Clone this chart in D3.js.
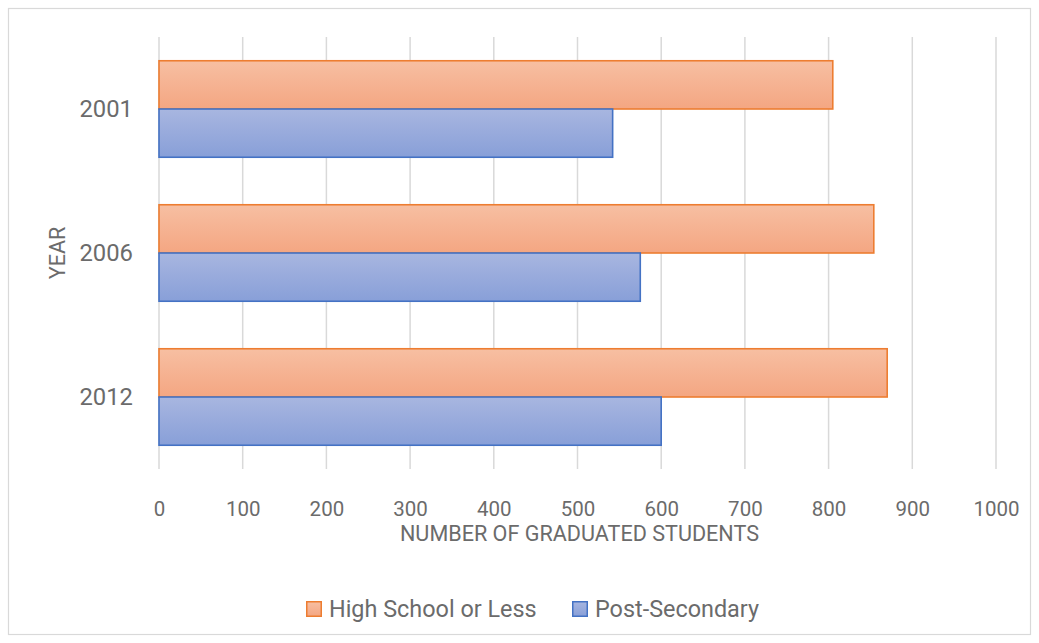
<!DOCTYPE html>
<html>
<head>
<meta charset="utf-8">
<script src="https://cdn.jsdelivr.net/npm/d3@7/dist/d3.min.js"></script>
<style>
  html, body { margin: 0; padding: 0; background: #fff; }
  svg { display: block; font-family: Roboto, "Open Sans", sans-serif; }
</style>
</head>
<body>
<svg id="chart" width="1039" height="643"></svg>
<script>
// Graduated students by year
const years = ["2001", "2006", "2012"];
const seriesNames = ["High School or Less", "Post-Secondary"];
const highSchool = [805, 854, 870];
const postSecondary = [542, 575, 600];
const xTicks = [0, 100, 200, 300, 400, 500, 600, 700, 800, 900, 1000];
const xTitle = "NUMBER OF GRADUATED STUDENTS";
const yTitle = "YEAR";

const W = 1039, H = 643;
const plot = { left: 159, right: 996, top: 37, bottom: 469 };
const textColor = "#6b6b6b";
const gridColor = "#d9d9d9";

const seriesStyle = [
  { stroke: "#ED7D31", top: "#f7bfa2", bottom: "#f4a682" },
  { stroke: "#4472C4", top: "#a8b6e0", bottom: "#889fd8" }
];

const rows = years.map((y, i) => ({ year: y, values: [highSchool[i], postSecondary[i]] }));

const svg = d3.select("#chart");

// chart area frame
svg.append("rect")
  .attr("x", 8.5).attr("y", 8.5)
  .attr("width", W - 17).attr("height", H - 17)
  .attr("fill", "#fff").attr("stroke", gridColor).attr("stroke-width", 1.2);

const defs = svg.append("defs");
seriesStyle.forEach((s, i) => {
  const g = defs.append("linearGradient").attr("id", "grad" + i)
    .attr("x1", 0).attr("y1", 0).attr("x2", 0).attr("y2", 1);
  g.append("stop").attr("offset", "0%").attr("stop-color", s.top);
  g.append("stop").attr("offset", "100%").attr("stop-color", s.bottom);
});

const x = d3.scaleLinear().domain([0, 1000]).range([plot.left, plot.right]);
const y = d3.scaleBand().domain(years).range([plot.top, plot.bottom])
  .paddingInner(0.33).paddingOuter(0.165);
const ySub = d3.scaleBand().domain(seriesNames).range([0, y.bandwidth()]);

// vertical gridlines
svg.append("g").selectAll("line").data(xTicks).join("line")
  .attr("x1", d => x(d)).attr("x2", d => x(d))
  .attr("y1", plot.top).attr("y2", plot.bottom)
  .attr("stroke", gridColor).attr("stroke-width", 1.5);

// bars
const groups = svg.append("g").selectAll("g").data(rows).join("g")
  .attr("transform", d => `translate(0,${y(d.year)})`);
groups.selectAll("rect")
  .data(d => d.values.map((v, k) => ({ k, v, name: seriesNames[k] })))
  .join("rect")
  .attr("x", x(0))
  .attr("y", d => ySub(d.name))
  .attr("width", d => x(d.v) - x(0))
  .attr("height", ySub.bandwidth())
  .attr("fill", d => `url(#grad${d.k})`)
  .attr("stroke", d => seriesStyle[d.k].stroke)
  .attr("stroke-width", 1.6);

// x axis labels
const xAxis = d3.axisBottom(x).tickValues(xTicks).tickSize(0).tickPadding(0).tickFormat(d3.format("d"));
const gx = svg.append("g").attr("transform", `translate(0,${plot.bottom + 31})`).call(xAxis);
gx.select(".domain").remove();
gx.selectAll("text").attr("fill", textColor).attr("font-size", 20.5)
  .attr("font-family", "Roboto, sans-serif").attr("dy", 0).attr("y", 15.5);

// y axis labels
const yAxis = d3.axisLeft(y).tickSize(0).tickPadding(0);
const gy = svg.append("g").attr("transform", `translate(${plot.left - 26},0)`).call(yAxis);
gy.select(".domain").remove();
gy.selectAll("text").attr("fill", textColor).attr("font-size", 23.8)
  .attr("font-family", "Roboto, sans-serif").attr("dy", "0.35em");

// axis titles
svg.append("text")
  .attr("x", (plot.left + plot.right) / 2 + 2).attr("y", 541)
  .attr("text-anchor", "middle").attr("fill", textColor)
  .attr("font-size", 21.6).text(xTitle);

svg.append("text")
  .attr("transform", `translate(65,${(plot.top + plot.bottom) / 2}) rotate(-90)`)
  .attr("text-anchor", "middle").attr("fill", textColor)
  .attr("font-size", 21.6).text(yTitle);

// legend
const legendX = [306, 572];
const legend = svg.append("g").selectAll("g").data(seriesNames).join("g")
  .attr("transform", (d, i) => `translate(${legendX[i]},601)`);
legend.append("rect")
  .attr("x", 0.75).attr("y", 0.75).attr("width", 14.5).attr("height", 14.5)
  .attr("fill", (d, i) => `url(#grad${i})`)
  .attr("stroke", (d, i) => seriesStyle[i].stroke).attr("stroke-width", 1.5);
legend.append("text")
  .attr("x", 23).attr("y", 16)
  .attr("fill", textColor).attr("font-size", 23.4)
  .text(d => d);
</script>
</body>
</html>
